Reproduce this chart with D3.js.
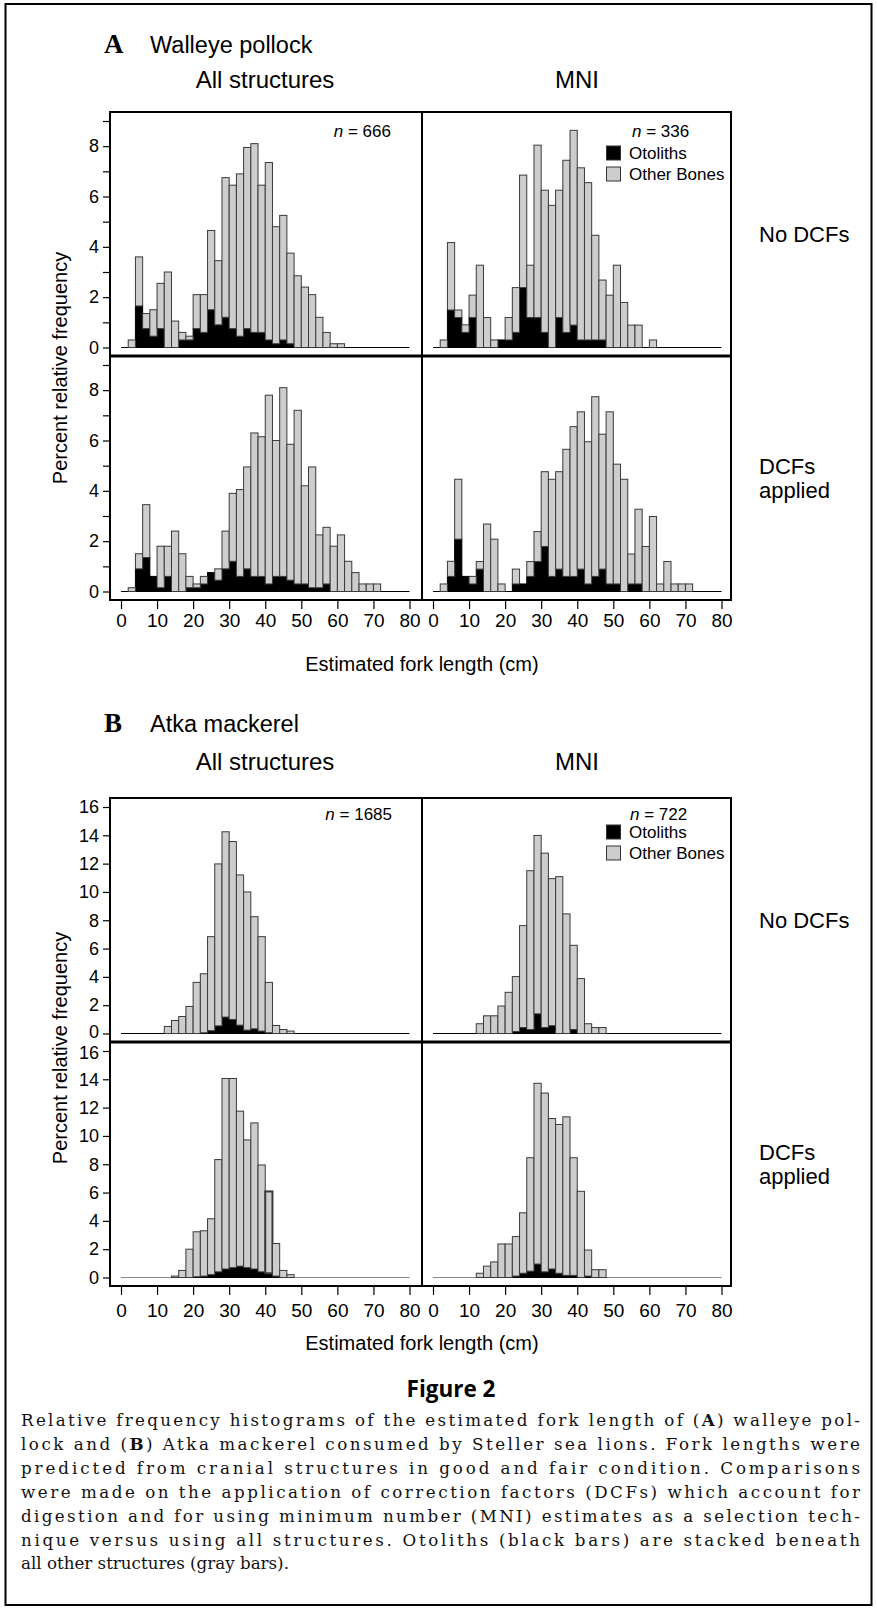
<!DOCTYPE html>
<html><head><meta charset="utf-8">
<script src="https://cdn.jsdelivr.net/npm/d3@7/dist/d3.min.js"></script>
<style>body{margin:0;background:#fff}svg{display:block}</style>
</head><body>
<svg id="c" width="877" height="1610"></svg>
<script>
// ---------------- DATA ----------------
// lower edge (cm) of each 2-cm length bin
const binsA = [2,4,6,8,10,12,14,16,18,20,22,24,26,28,30,32,34,36,38,40,42,44,46,48,50,52,54,56,58,60,62,64,66,68,70];
const binsB = [12,14,16,18,20,22,24,26,28,30,32,34,36,38,40,42,44,46];
const xTicks = [0,10,20,30,40,50,60,70,80];
const yTicksA = [0,1,2,3,4,5,6,7,8,9];
const yLabelsA = [0,2,4,6,8];
const yTicksB = [0,2,4,6,8,10,12,14,16];
const yLabelsB = [0,2,4,6,8,10,12,14,16];

// Walleye pollock – All structures, no DCFs (n = 666)
const pollockAllNoDCF_otoliths = [0,1.65,0.75,0.45,0.75,0,0,0.3,0.3,0.75,0.6,1.5,0.9,1.2,0.75,0.45,0.75,0.6,0.6,0.3,0.15,0.3,0.15,0,0,0,0,0,0,0,0,0,0,0,0];
const pollockAllNoDCF_other    = [0.30,1.95,0.60,1.05,1.80,3.00,1.05,0.30,0.15,1.35,1.50,3.15,2.55,5.55,5.70,6.45,7.20,7.50,5.85,7.05,4.65,4.95,3.60,2.85,2.40,2.10,1.20,0.60,0.15,0.15,0,0,0,0,0];
// Walleye pollock – MNI, no DCFs (n = 336)
const pollockMNINoDCF_otoliths = [0,1.49,1.19,0.60,1.19,0,0,0,0.30,0.30,0.60,2.38,1.19,1.19,0.60,0,1.19,0.60,0.89,0.30,0.30,0.30,0.30,0,0,0,0,0,0,0,0,0,0,0,0];
const pollockMNINoDCF_other    = [0.30,2.68,0.30,0.30,0.89,3.27,1.19,0.30,0,0.89,1.78,4.47,2.08,6.85,5.65,5.65,5.06,6.84,7.74,6.84,6.25,4.16,2.38,2.08,3.27,1.79,0.89,0.89,0,0.30,0,0,0,0,0];
// Walleye pollock – All structures, DCFs applied
const pollockAllDCF_otoliths = [0,0.9,1.35,0.6,0.15,0.6,0,0,0.15,0.15,0.3,0.75,0.45,0.9,1.2,0.6,0.9,0.6,0.6,0.3,0.6,0.6,0.45,0.3,0.3,0.15,0.15,0.3,0,0,0,0,0,0,0];
const pollockAllDCF_other    = [0.15,0.6,2.1,0,1.65,1.2,2.4,1.5,0.45,0.15,0.3,0,0.45,1.5,2.7,3.45,4.05,5.7,5.55,7.5,5.4,7.5,5.4,6.9,3.9,4.8,2.1,2.25,1.8,2.25,1.2,0.75,0.3,0.3,0.3];
// Walleye pollock – MNI, DCFs applied
const pollockMNIDCF_otoliths = [0,0.6,2.08,0.6,0.3,0.89,0,0,0,0,0.3,0.3,0.6,1.19,1.79,0.6,0.89,0.6,0.6,0.89,0.3,0.6,0.89,0.3,0.3,0,0.3,0.3,0,0,0,0,0,0,0];
const pollockMNIDCF_other    = [0.3,0.6,2.38,0,0.3,0.3,2.68,2.08,0.3,0,0.59,0,0.59,1.19,2.97,3.86,3.87,5.05,5.95,6.25,5.65,7.14,5.36,6.84,4.76,4.46,1.19,2.97,1.79,2.98,0.3,1.19,0.3,0.3,0.3];

// Atka mackerel – All structures, no DCFs (n = 1685)
const mackAllNoDCF_otoliths = [0,0,0,0,0,0.05,0.2,0.54,1.16,0.99,0.59,0.24,0.33,0.17,0.05,0,0,0];
const mackAllNoDCF_other    = [0.5,0.92,1.2,1.91,3.61,4.17,6.64,11.44,13.09,12.57,10.61,9.76,7.92,6.67,3.56,0.57,0.28,0.17];
// Atka mackerel – MNI, no DCFs (n = 722)
const mackMNINoDCF_otoliths = [0,0,0,0,0,0.14,0.42,0.28,1.39,0.42,0.55,0,0,0.28,0,0,0,0];
const mackMNINoDCF_other    = [0.69,1.25,1.25,1.94,2.91,3.88,7.2,11.22,12.6,12.32,10.39,11.08,8.45,5.95,3.88,0.69,0.42,0.42];
// Atka mackerel – All structures, DCFs applied
const mackAllDCF_otoliths = [0,0,0,0,0.05,0.1,0.2,0.4,0.6,0.7,0.8,0.7,0.6,0.4,0.3,0.1,0,0];
const mackAllDCF_other    = [0,0.1,0.5,2.0,3.18,3.2,3.95,7.93,13.46,13.36,10.95,9.02,10.32,7.55,5.78,2.3,0.5,0.2];
// Atka mackerel – MNI, DCFs applied
const mackMNIDCF_otoliths = [0,0,0,0,0,0.1,0.3,0.45,0.95,0.4,0.6,0.3,0.15,0.15,0,0.1,0,0];
const mackMNIDCF_other    = [0.3,0.8,1.1,2.37,2.37,2.79,4.27,8.01,12.77,12.63,10.63,10.51,11.2,8.31,6.09,1.84,0.55,0.55];

const sampleSizes = {A: ["666","336"], B: ["1685","722"]};
const columnTitles = ["All structures", "MNI"];
const rowTitles = [["No DCFs"], ["DCFs", "applied"]];
const legendLabels = ["Otoliths", "Other Bones"];

// ---------------- DRAWING ----------------
const svg = d3.select("#c");
const SANS = "'Liberation Sans', Arial, Helvetica, sans-serif";
const SERIF = "'Liberation Serif', 'Times New Roman', serif";
const GRAY = "#cdcdcd";

svg.append("rect").attr("x", 5.5).attr("y", 4).attr("width", 866).attr("height", 1601)
  .attr("fill", "none").attr("stroke", "#000").attr("stroke-width", 2);

const colLeft = [110, 422];
const PW = 312, PH = 244;
const frameRight = 731;

function drawBlock(o) {
  const top = o.top;
  // headings
  svg.append("text").attr("x", 104).attr("y", top - o.headOff).attr("font-family", SERIF)
    .attr("font-weight", "bold").attr("font-size", 27).text(o.letter);
  svg.append("text").attr("x", 150).attr("y", top - o.headOff).attr("font-family", SANS)
    .attr("font-size", 23.5).text(o.species);
  columnTitles.forEach((t, i) => {
    svg.append("text").attr("x", colLeft[i] + PW / 2 - 1).attr("y", top - o.colOff)
      .attr("text-anchor", "middle").attr("font-family", SANS).attr("font-size", 24).text(t);
  });

  const stack = d3.stack().keys(["oto", "other"]);
  for (let r = 0; r < 2; r++) {
    const rt = top + r * PH;
    const y = d3.scaleLinear().domain([0, o.yMax]).range([rt + PH - 8.5, rt + 9]);
    // row label
    rowTitles[r].forEach((t, k) => {
      const n = rowTitles[r].length;
      svg.append("text").attr("x", 759)
        .attr("y", rt + PH / 2 + 8 + (k - (n - 1) / 2) * 24)
        .attr("font-family", SANS).attr("font-size", 22).text(t);
    });
    // y axis
    const ya = svg.append("g").attr("transform", `translate(${colLeft[0]},0)`)
      .call(d3.axisLeft(y).tickValues(o.yTicks).tickSize(7).tickPadding(4)
        .tickFormat(d => o.yLabels.includes(d) ? d : ""));
    ya.select(".domain").remove();
    ya.selectAll("line").attr("stroke", "#000").attr("stroke-width", 1.2);
    ya.selectAll("text").attr("font-family", SANS).attr("font-size", 18).attr("fill", "#000");
    // keep the touching labels at the row junction apart
    if (o.yMax === 16) {
      ya.selectAll(".tick text").filter(d => (r === 0 && d === 0)).attr("dy", "0.2em");
      ya.selectAll(".tick text").filter(d => (r === 1 && d === 16)).attr("dy", "0.42em");
    }

    for (let c = 0; c < 2; c++) {
      const L = colLeft[c];
      const x = d3.scaleLinear().domain([0, 80]).range([L + 11, L + 299.5]);
      const p = o.panels[r][c];
      const rows = o.bins.map((b, i) => ({bin: b, oto: p.oto[i], other: p.other[i]}));
      const series = stack(rows);
      const g = svg.append("g");
      // baseline
      g.append("line").attr("x1", x(0)).attr("x2", x(80)).attr("y1", y(0)).attr("y2", y(0))
        .attr("stroke", p.baseColor || "#000").attr("stroke-width", 1.2);
      series.forEach((s, si) => {
        g.selectAll(null).data(s.filter(d => d[1] - d[0] > 0)).join("rect")
          .attr("x", d => x(d.data.bin))
          .attr("width", d => x(d.data.bin + 2) - x(d.data.bin))
          .attr("y", d => y(d[1]))
          .attr("height", d => y(d[0]) - y(d[1]))
          .attr("fill", si === 0 ? "#000" : GRAY)
          .attr("stroke", si === 0 ? "#000" : "#3a3a3a")
          .attr("stroke-width", d => (p.outlined && p.outlined.includes(d.data.bin) && si === 1) ? 2 : 1);
      });
      // x axis only below bottom row
      if (r === 1) {
        const xa = svg.append("g").attr("transform", `translate(0,${rt + PH})`)
          .call(d3.axisBottom(x).tickValues(xTicks).tickSize(9).tickPadding(o.xPad));
        xa.select(".domain").remove();
        xa.selectAll("line").attr("stroke", "#000").attr("stroke-width", 1.2);
        xa.selectAll("text").attr("font-family", SANS).attr("font-size", 19).attr("fill", "#000");
      }
    }
  }
  // frame and dividers
  svg.append("rect").attr("x", colLeft[0]).attr("y", top).attr("width", frameRight - colLeft[0]).attr("height", PH * 2)
    .attr("fill", "none").attr("stroke", "#000").attr("stroke-width", 2);
  svg.append("line").attr("x1", colLeft[1]).attr("x2", colLeft[1]).attr("y1", top).attr("y2", top + 2 * PH)
    .attr("stroke", "#000").attr("stroke-width", 2);
  svg.append("line").attr("x1", colLeft[0]).attr("x2", frameRight).attr("y1", top + PH).attr("y2", top + PH)
    .attr("stroke", "#000").attr("stroke-width", 3);

  // n labels
  svg.append("text").attr("x", o.nPos[0][0]).attr("y", o.nPos[0][1]).attr("text-anchor", "end")
    .attr("font-family", SANS).attr("font-size", 17)
    .call(t => { t.append("tspan").attr("font-style", "italic").text("n"); t.append("tspan").text(" = " + o.n[0]); });
  svg.append("text").attr("x", o.nPos[1][0]).attr("y", o.nPos[1][1])
    .attr("font-family", SANS).attr("font-size", 17)
    .call(t => { t.append("tspan").attr("font-style", "italic").text("n"); t.append("tspan").text(" = " + o.n[1]); });
  // legend
  legendLabels.forEach((lab, i) => {
    const ly = o.legY + i * 21;
    svg.append("rect").attr("x", 606.5).attr("y", ly).attr("width", 14).attr("height", 14)
      .attr("fill", i === 0 ? "#000" : GRAY).attr("stroke", "#333").attr("stroke-width", 1);
    svg.append("text").attr("x", 629).attr("y", ly + 13).attr("font-family", SANS).attr("font-size", 17).text(lab);
  });

  // axis titles
  svg.append("text").attr("transform", `translate(67,${top + PH + o.yTitleOff}) rotate(-90)`)
    .attr("text-anchor", "middle").attr("font-family", SANS).attr("font-size", 20)
    .text("Percent relative frequency");
  svg.append("text").attr("x", colLeft[1]).attr("y", top + 2 * PH + o.xTitleOff)
    .attr("text-anchor", "middle").attr("font-family", SANS).attr("font-size", 20)
    .text("Estimated fork length (cm)");
}

drawBlock({
  top: 112, letter: "A", species: "Walleye pollock", yMax: 9,
  headOff: 59, colOff: 24, xPad: 5, xTitleOff: 71, yTitleOff: 12,
  yTicks: yTicksA, yLabels: yLabelsA, bins: binsA, n: sampleSizes.A,
  nPos: [[391, 137], [632, 137]], legY: 146,
  panels: [
    [{oto: pollockAllNoDCF_otoliths, other: pollockAllNoDCF_other},
     {oto: pollockMNINoDCF_otoliths, other: pollockMNINoDCF_other}],
    [{oto: pollockAllDCF_otoliths, other: pollockAllDCF_other},
     {oto: pollockMNIDCF_otoliths, other: pollockMNIDCF_other}]
  ]
});
drawBlock({
  top: 798, letter: "B", species: "Atka mackerel", yMax: 16,
  headOff: 66, colOff: 28, xPad: 9, xTitleOff: 64, yTitleOff: 6,
  yTicks: yTicksB, yLabels: yLabelsB, bins: binsB, n: sampleSizes.B,
  nPos: [[392, 820], [630, 820]], legY: 825,
  panels: [
    [{oto: mackAllNoDCF_otoliths, other: mackAllNoDCF_other},
     {oto: mackMNINoDCF_otoliths, other: mackMNINoDCF_other}],
    [{oto: mackAllDCF_otoliths, other: mackAllDCF_other, baseColor: "#888", outlined: [40]},
     {oto: mackMNIDCF_otoliths, other: mackMNIDCF_other, baseColor: "#888"}]
  ]
});

// ---------------- CAPTION ----------------
svg.append("text").attr("x", 451).attr("y", 1397).attr("text-anchor", "middle")
  .attr("font-family", "'Open Sans', 'Noto Sans', sans-serif").attr("font-weight", "bold")
  .attr("font-size", 22.5).text("Figure 2");

const captionLines = [
  [["Relative frequency histograms of the estimated fork length of (", 0], ["A", 1], [") walleye pol-", 0]],
  [["lock and (", 0], ["B", 1], [") Atka mackerel consumed by Steller sea lions. Fork lengths were", 0]],
  [["predicted from cranial structures in good and fair condition. Comparisons", 0]],
  [["were made on the application of correction factors (DCFs) which account for", 0]],
  [["digestion and for using minimum number (MNI) estimates as a selection tech-", 0]],
  [["nique versus using all structures. Otoliths (black bars) are stacked beneath", 0]],
  [["all other structures (gray bars).", 0]]
];
const captionWidth = 839;
captionLines.forEach((line, i) => {
  const t = svg.append("text").attr("x", 21).attr("y", 1426 + i * 23.9)
    .attr("font-family", "'DejaVu Serif', serif").attr("font-size", 16.7).attr("fill", "#111");
  line.forEach(([s, b]) => t.append("tspan").attr("font-weight", b ? "bold" : "normal").text(s));
  if (i < captionLines.length - 1) {
    t.attr("textLength", captionWidth).attr("lengthAdjust", "spacing");
  }
});
</script>
</body></html>
